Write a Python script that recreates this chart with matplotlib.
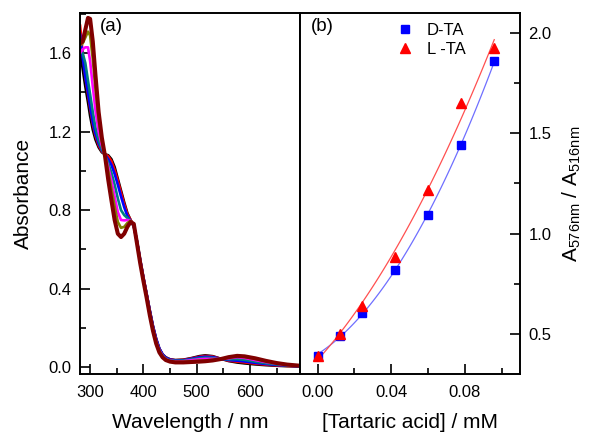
import numpy as np
import matplotlib
matplotlib.use('Agg')
import matplotlib.pyplot as plt
from matplotlib.ticker import MultipleLocator

plt.rcParams['font.family'] = ['Liberation Sans', 'DejaVu Sans']
plt.rcParams['mathtext.default'] = 'regular'

# (a) UV-vis spectra
wl = [281, 286, 291, 296, 300, 305, 310, 316, 322, 328, 334, 340, 346, 352, 358,
      364, 370, 376, 382, 388, 394, 400, 406, 412, 418, 424, 430, 436, 442, 450,
      460, 475, 490, 505, 516, 530, 545, 560, 576, 590, 610, 630, 650, 670, 695]

spec_black = [1.62, 1.52, 1.43, 1.35, 1.28, 1.21, 1.16, 1.12, 1.095, 1.085, 1.08, 1.06, 1.02, 0.96, 0.90,
              0.84, 0.785, 0.75, 0.715, 0.64, 0.545, 0.455, 0.372, 0.288, 0.208, 0.143, 0.094, 0.065, 0.05, 0.04,
              0.036, 0.038, 0.046, 0.056, 0.060, 0.056, 0.043, 0.031, 0.0235, 0.019, 0.014, 0.010, 0.007, 0.005, 0.003]
spec_red = [1.745, 1.60, 1.48, 1.39, 1.32, 1.24, 1.18, 1.13, 1.10, 1.085, 1.075, 1.05, 1.005, 0.95, 0.89,
            0.83, 0.78, 0.75, 0.72, 0.64, 0.545, 0.455, 0.372, 0.286, 0.206, 0.142, 0.093, 0.064, 0.048, 0.039,
            0.035, 0.037, 0.044, 0.053, 0.057, 0.054, 0.043, 0.033, 0.028, 0.024, 0.018, 0.013, 0.009, 0.006, 0.004]
spec_blue = [1.70, 1.58, 1.48, 1.40, 1.33, 1.25, 1.19, 1.14, 1.105, 1.083, 1.06, 1.03, 0.985, 0.93, 0.87,
             0.815, 0.77, 0.745, 0.72, 0.642, 0.548, 0.458, 0.375, 0.29, 0.21, 0.145, 0.095, 0.065, 0.048, 0.038,
             0.034, 0.035, 0.042, 0.050, 0.053, 0.051, 0.043, 0.036, 0.033, 0.029, 0.022, 0.016, 0.011, 0.008, 0.004]
spec_teal = [1.61, 1.60, 1.55, 1.46, 1.39, 1.30, 1.22, 1.155, 1.11, 1.08, 1.04, 0.99, 0.93, 0.86, 0.80,
             0.775, 0.76, 0.745, 0.725, 0.64, 0.542, 0.452, 0.368, 0.28, 0.20, 0.135, 0.088, 0.06, 0.044, 0.035,
             0.032, 0.033, 0.039, 0.045, 0.048, 0.047, 0.042, 0.040, 0.041, 0.037, 0.028, 0.020, 0.014, 0.009, 0.005]
spec_magenta = [1.60, 1.62, 1.63, 1.63, 1.56, 1.43, 1.31, 1.20, 1.13, 1.078, 1.02, 0.95, 0.87, 0.79, 0.75,
                0.748, 0.75, 0.745, 0.725, 0.638, 0.54, 0.45, 0.365, 0.275, 0.195, 0.13, 0.085, 0.057, 0.041, 0.032,
                0.030, 0.030, 0.035, 0.040, 0.042, 0.042, 0.042, 0.045, 0.051, 0.047, 0.036, 0.026, 0.018, 0.011, 0.006]
spec_olive = [1.64, 1.65, 1.68, 1.71, 1.69, 1.57, 1.42, 1.26, 1.15, 1.077, 1.00, 0.91, 0.82, 0.74, 0.71,
              0.715, 0.735, 0.745, 0.728, 0.635, 0.535, 0.445, 0.36, 0.27, 0.19, 0.125, 0.08, 0.053, 0.038, 0.03,
              0.027, 0.027, 0.030, 0.033, 0.034, 0.037, 0.041, 0.049, 0.055, 0.052, 0.042, 0.030, 0.020, 0.012, 0.006]
spec_wine = [1.65, 1.66, 1.72, 1.78, 1.775, 1.66, 1.49, 1.30, 1.17, 1.075, 0.955, 0.85, 0.75, 0.68, 0.663,
             0.68, 0.715, 0.74, 0.73, 0.63, 0.53, 0.44, 0.355, 0.265, 0.185, 0.12, 0.075, 0.05, 0.036, 0.028,
             0.024, 0.024, 0.026, 0.028, 0.030, 0.034, 0.041, 0.051, 0.0575, 0.055, 0.045, 0.032, 0.021, 0.013, 0.007]

spectra = [spec_black, spec_red, spec_blue, spec_teal, spec_magenta, spec_olive, spec_wine]
spec_colors = ['black', '#ff0000', '#0000ff', '#008080', '#ff00ff', '#808000', '#800000']
spec_widths = [1.9, 1.9, 1.9, 1.9, 1.9, 1.9, 2.9]

# (b) ratio vs tartaric acid
conc = [0.0, 0.012, 0.024, 0.042, 0.060, 0.078, 0.096]
ratio_d = [0.392, 0.487, 0.606, 0.819, 1.093, 1.44, 1.862]
ratio_l = [0.388, 0.50, 0.64, 0.885, 1.216, 1.653, 1.924]

fig = plt.figure(figsize=(5.9, 4.34), dpi=100)
ax1 = fig.add_axes([80 / 590, 1 - 374 / 434, 220 / 590, 361 / 434])
ax2 = fig.add_axes([300 / 590, 1 - 374 / 434, 220 / 590, 361 / 434])

for s, c, lw in zip(spectra, spec_colors, spec_widths):
    ax1.plot(wl, s, color=c, lw=lw, solid_capstyle='round')

ax1.set_xlim(281, 694)
ax1.set_ylim(-0.035, 1.805)
ax1.xaxis.set_major_locator(MultipleLocator(100))
ax1.xaxis.set_minor_locator(MultipleLocator(50))
ax1.yaxis.set_major_locator(MultipleLocator(0.4))
ax1.yaxis.set_minor_locator(MultipleLocator(0.2))
ax1.tick_params(which='both', direction='in', labelsize=12, width=1.2, right=False, top=False)
ax1.tick_params(which='major', length=7)
ax1.tick_params(which='minor', length=4)
ax1.tick_params(axis='x', which='major', pad=8)
ax1.tick_params(axis='y', which='major', pad=6)
ax1.set_xlabel('Wavelength / nm', fontsize=15, labelpad=9)
ax1.set_ylabel('Absorbance', fontsize=15, labelpad=11)
ax1.text(0.09, 0.985, '(a)', transform=ax1.transAxes, fontsize=13.5, va='top')

# quadratic fits
xf = np.linspace(0, 0.096, 100)
pd_ = np.polyfit(conc, ratio_d, 2)
pl_ = np.polyfit(conc, ratio_l, 2)
ax2.plot(xf, np.polyval(pd_, xf), color='#6f6fff', lw=0.9)
ax2.plot(xf, np.polyval(pl_, xf), color='#ff5050', lw=0.9)
ax2.plot(conc, ratio_d, 's', color='#0000ff', ms=6, label='D-TA')
ax2.plot(conc, ratio_l, '^', color='#ff0000', ms=7.5, label='L -TA')

ax2.set_xlim(-0.0096, 0.11)
ax2.set_ylim(0.30, 2.10)
ax2.xaxis.set_major_locator(MultipleLocator(0.04))
ax2.xaxis.set_minor_locator(MultipleLocator(0.02))
ax2.yaxis.set_major_locator(MultipleLocator(0.5))
ax2.yaxis.set_minor_locator(MultipleLocator(0.25))
ax2.xaxis.set_major_formatter(matplotlib.ticker.FormatStrFormatter('%.2f'))
ax2.yaxis.tick_right()
ax2.yaxis.set_label_position('right')
ax2.tick_params(which='both', direction='in', labelsize=12, width=1.2, left=False, top=False)
ax2.tick_params(which='major', length=7)
ax2.tick_params(which='minor', length=4)
ax2.tick_params(axis='x', which='major', pad=8)
ax2.tick_params(axis='y', which='major', pad=6)
ax2.set_xlabel('[Tartaric acid] / mM', fontsize=15, labelpad=9)
ax2.set_ylabel('A$_{576nm}$ / A$_{516nm}$', fontsize=15, labelpad=7)
ax2.text(0.05, 0.985, '(b)', transform=ax2.transAxes, fontsize=13.5, va='top')
ax2.legend(loc='upper left', bbox_to_anchor=(0.395, 1.0), frameon=False, fontsize=12,
           handlelength=1.0, handletextpad=0.8, labelspacing=0.25, borderaxespad=0.2)

for ax in (ax1, ax2):
    for sp in ax.spines.values():
        sp.set_linewidth(1.4)

fig.savefig('out.png', dpi=100)
